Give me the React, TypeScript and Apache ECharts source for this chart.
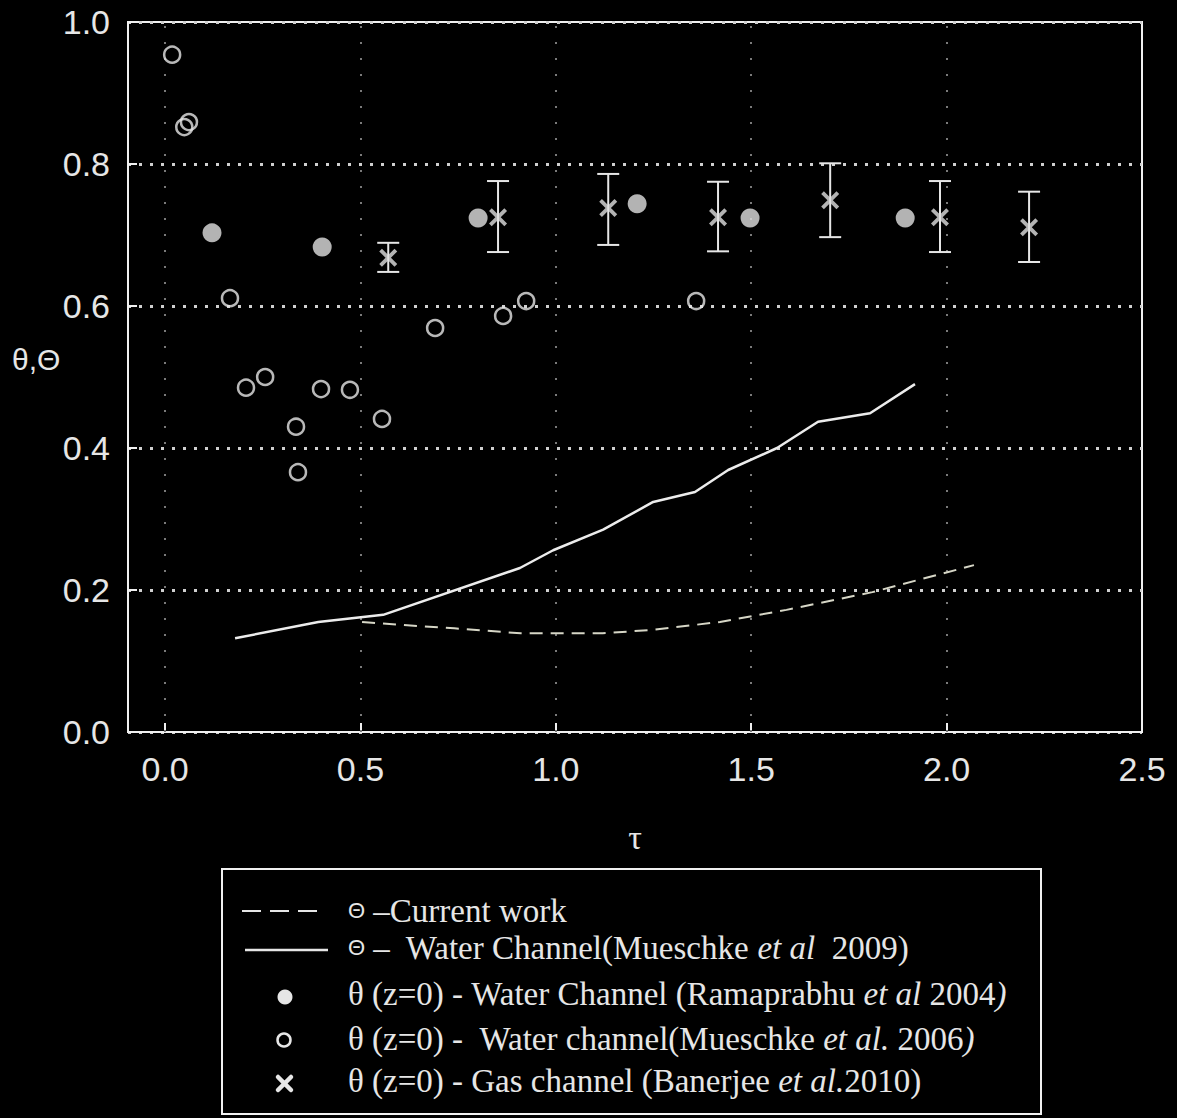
import React, { useEffect, useRef } from "react";
import * as echarts from "echarts";

// ---- axis ticks ----
const xTickValues = [0, 0.5, 1.0, 1.5, 2.0, 2.5];
const xGridValues = [0, 0.5, 1.0, 1.5, 2.0];

// ---- Θ - Current work (dashed) ----
const currentWorkTau = [0.504, 0.6, 0.74, 0.91, 1.12, 1.25, 1.42, 1.59, 1.81, 2.07];
const currentWorkTheta = [0.155, 0.151, 0.146, 0.139, 0.139, 0.144, 0.155, 0.172, 0.197, 0.235];

// ---- Θ - Water Channel (Mueschke et al 2009) (solid) ----
const mueschke2009Tau = [0.179, 0.392, 0.558, 0.908, 0.993, 1.121, 1.249, 1.356, 1.441, 1.566, 1.671, 1.804, 1.919];
const mueschke2009Theta = [0.132, 0.155, 0.165, 0.231, 0.256, 0.285, 0.324, 0.338, 0.369, 0.4, 0.437, 0.449, 0.49];

// ---- θ(z=0) - Water Channel (Ramaprabhu et al 2004) (filled circles) ----
const ramaprabhuTau = [0.12, 0.402, 0.801, 1.208, 1.497, 1.894];
const ramaprabhuTheta = [0.703, 0.683, 0.724, 0.744, 0.724, 0.724];

// ---- θ(z=0) - Water channel (Mueschke et al. 2006) (open circles) ----
const mueschke2006Tau = [0.018, 0.049, 0.061, 0.166, 0.207, 0.256, 0.335, 0.34, 0.399, 0.473, 0.555, 0.691, 0.865, 0.924, 1.359];
const mueschke2006Theta = [0.954, 0.852, 0.859, 0.611, 0.485, 0.5, 0.43, 0.366, 0.483, 0.482, 0.441, 0.569, 0.586, 0.607, 0.607];

// ---- θ(z=0) - Gas channel (Banerjee et al. 2010) (crosses with error bars) ----
const banerjeeTau = [0.571, 0.852, 1.134, 1.415, 1.702, 1.983, 2.211];
const banerjeeTheta = [0.668, 0.725, 0.738, 0.725, 0.749, 0.725, 0.711];
const banerjeeLow = [0.648, 0.676, 0.686, 0.677, 0.697, 0.676, 0.662];
const banerjeeHigh = [0.689, 0.776, 0.786, 0.775, 0.801, 0.776, 0.761];

const FG = "#e6e6e6";
const CROSS_PATH =
  "path://M3,0 L10,7 L17,0 L20,3 L13,10 L20,17 L17,20 L10,13 L3,20 L0,17 L7,10 L0,3 Z";

const SERIF = "'Liberation Serif', 'Times New Roman', serif";
const SANS = "'Liberation Sans', Arial, sans-serif";

export default function App() {
  const ref = useRef<HTMLDivElement>(null);

  useEffect(() => {
    if (!ref.current) return;
    const chart = echarts.init(ref.current, null, { renderer: "svg" });

    const zip = (a: number[], b: number[]) => a.map((v, i) => [v, b[i]]);

    const legendRich = {
      th: { fontSize: 22, fontFamily: SANS, fill: FG, verticalAlign: "middle" },
      i: { fontStyle: "italic", fontSize: 33, fontFamily: SERIF, fill: FG },
    };
    const legendText = (y: number, text: string) => ({
      type: "text",
      left: 348,
      top: y - 19,
      style: {
        text,
        fontSize: 33,
        fontFamily: SERIF,
        fill: FG,
        rich: legendRich,
      },
    });

    const option: any = {
      animation: false,
      backgroundColor: "#000",
      grid: {
        left: 128,
        right: 35,
        top: 22,
        bottom: 386,
        show: true,
        borderColor: "#f0f0f0",
        borderWidth: 2,
        backgroundColor: "transparent",
        outerBoundsMode: "none",
      },
      xAxis: {
        type: "value",
        min: -0.095,
        max: 2.5,
        name: "τ",
        nameLocation: "middle",
        nameGap: 88,
        nameTextStyle: { fontFamily: SERIF, fontSize: 34, color: FG },
        axisLine: { show: true, onZero: false, lineStyle: { color: "#f0f0f0", width: 2 } },
        axisTick: {
          show: true,
          inside: true,
          length: 9,
          customValues: xTickValues,
          lineStyle: { color: "#f0f0f0", width: 2 },
        },
        axisLabel: {
          customValues: xTickValues,
          formatter: (v: number) => v.toFixed(1),
          fontFamily: SANS,
          fontSize: 34,
          color: FG,
          margin: 20,
        },
        splitLine: { show: false },
      },
      yAxis: {
        type: "value",
        min: 0,
        max: 1,
        interval: 0.2,
        axisLine: { show: true, onZero: false, lineStyle: { color: "#f0f0f0", width: 2 } },
        axisTick: {
          show: true,
          inside: true,
          length: 9,
          lineStyle: { color: "#f0f0f0", width: 2 },
        },
        axisLabel: {
          formatter: (v: number) => v.toFixed(1),
          fontFamily: SANS,
          fontSize: 34,
          color: FG,
          margin: 18,
        },
        splitLine: {
          show: true,
          lineStyle: { color: "#d0d0d0", width: 3, type: [3, 8] },
        },
      },
      graphic: [
        {
          type: "text",
          left: 12,
          top: 361 - 17,
          style: { text: "θ,Θ", fontSize: 30, fontFamily: SANS, fill: FG },
        },
        {
          type: "rect",
          shape: { x: 222, y: 869, width: 819, height: 245 },
          style: { fill: "none", stroke: "#f0f0f0", lineWidth: 2 },
        },
        {
          type: "line",
          shape: { x1: 242, y1: 911, x2: 318, y2: 911 },
          style: { stroke: FG, lineWidth: 2, lineDash: [19, 9] },
        },
        {
          type: "line",
          shape: { x1: 245, y1: 950, x2: 328, y2: 950 },
          style: { stroke: FG, lineWidth: 2.5 },
        },
        {
          type: "circle",
          shape: { cx: 285, cy: 997, r: 7.5 },
          style: { fill: FG },
        },
        {
          type: "circle",
          shape: { cx: 284, cy: 1040, r: 6.5 },
          style: { fill: "none", stroke: FG, lineWidth: 2.5 },
        },
        {
          type: "line",
          shape: { x1: 278, y1: 1077, x2: 291, y2: 1090 },
          style: { stroke: FG, lineWidth: 4.5, lineCap: "round" },
        },
        {
          type: "line",
          shape: { x1: 291, y1: 1077, x2: 278, y2: 1090 },
          style: { stroke: FG, lineWidth: 4.5, lineCap: "round" },
        },
        legendText(913, "{th|Θ} –Current work"),
        legendText(950, "{th|Θ} –  Water Channel(Mueschke {i|et al}  2009)"),
        legendText(996, "θ (z=0) - Water Channel (Ramaprabhu {i|et al} 2004{i|)}"),
        legendText(1041, "θ (z=0) -  Water channel(Mueschke {i|et al.} 2006{i|)}"),
        legendText(1083, "θ (z=0) - Gas channel (Banerjee {i|et al.}2010)"),
      ],
      series: [
        {
          name: "Θ - Current work",
          type: "line",
          data: zip(currentWorkTau, currentWorkTheta),
          showSymbol: false,
          symbol: "none",
          lineStyle: { color: "#d6d6c6", width: 2, type: [13, 8] },
          z: 3,
          markLine: {
            silent: true,
            symbol: ["none", "none"],
            label: { show: false },
            lineStyle: { color: "#7a7a7a", width: 2, type: [2, 14] },
            data: xGridValues.map((v) => ({ xAxis: v })),
            z: 1,
          },
        },
        {
          name: "Θ - Water Channel (Mueschke et al 2009)",
          type: "line",
          data: zip(mueschke2009Tau, mueschke2009Theta),
          showSymbol: false,
          symbol: "none",
          lineStyle: { color: "#ececec", width: 2.5 },
          z: 4,
        },
        {
          name: "θ (z=0) - Water Channel (Ramaprabhu et al 2004)",
          type: "scatter",
          data: zip(ramaprabhuTau, ramaprabhuTheta),
          symbol: "circle",
          symbolSize: 19,
          itemStyle: { color: "#e0e0e0" },
          z: 5,
        },
        {
          name: "θ (z=0) - Water channel (Mueschke et al. 2006)",
          type: "scatter",
          data: zip(mueschke2006Tau, mueschke2006Theta),
          symbol: "circle",
          symbolSize: 16,
          itemStyle: { color: "rgba(0,0,0,0)", borderColor: FG, borderWidth: 2.5 },
          z: 5,
        },
        {
          name: "Banerjee error bars",
          type: "custom",
          data: banerjeeTau.map((t, i) => [t, banerjeeLow[i], banerjeeHigh[i]]),
          renderItem: (params: any, api: any) => {
            const x = api.value(0);
            const lo = api.coord([x, api.value(1)]);
            const hi = api.coord([x, api.value(2)]);
            const hw = 11;
            const st = { stroke: FG, lineWidth: 2 };
            return {
              type: "group",
              children: [
                { type: "line", shape: { x1: lo[0], y1: lo[1], x2: hi[0], y2: hi[1] }, style: st },
                { type: "line", shape: { x1: lo[0] - hw, y1: lo[1], x2: lo[0] + hw, y2: lo[1] }, style: st },
                { type: "line", shape: { x1: hi[0] - hw, y1: hi[1], x2: hi[0] + hw, y2: hi[1] }, style: st },
              ],
            };
          },
          z: 5,
        },
        {
          name: "θ (z=0) - Gas channel (Banerjee et al. 2010)",
          type: "scatter",
          data: zip(banerjeeTau, banerjeeTheta),
          symbol: CROSS_PATH,
          symbolSize: 18,
          itemStyle: { color: "#e0e0e0" },
          z: 6,
        },
      ],
    };

    chart.setOption(option);
    return () => chart.dispose();
  }, []);

  return (
    <div
      ref={ref}
      style={{ position: "absolute", left: 0, top: 0, width: 1177, height: 1118, background: "#000" }}
    />
  );
}
